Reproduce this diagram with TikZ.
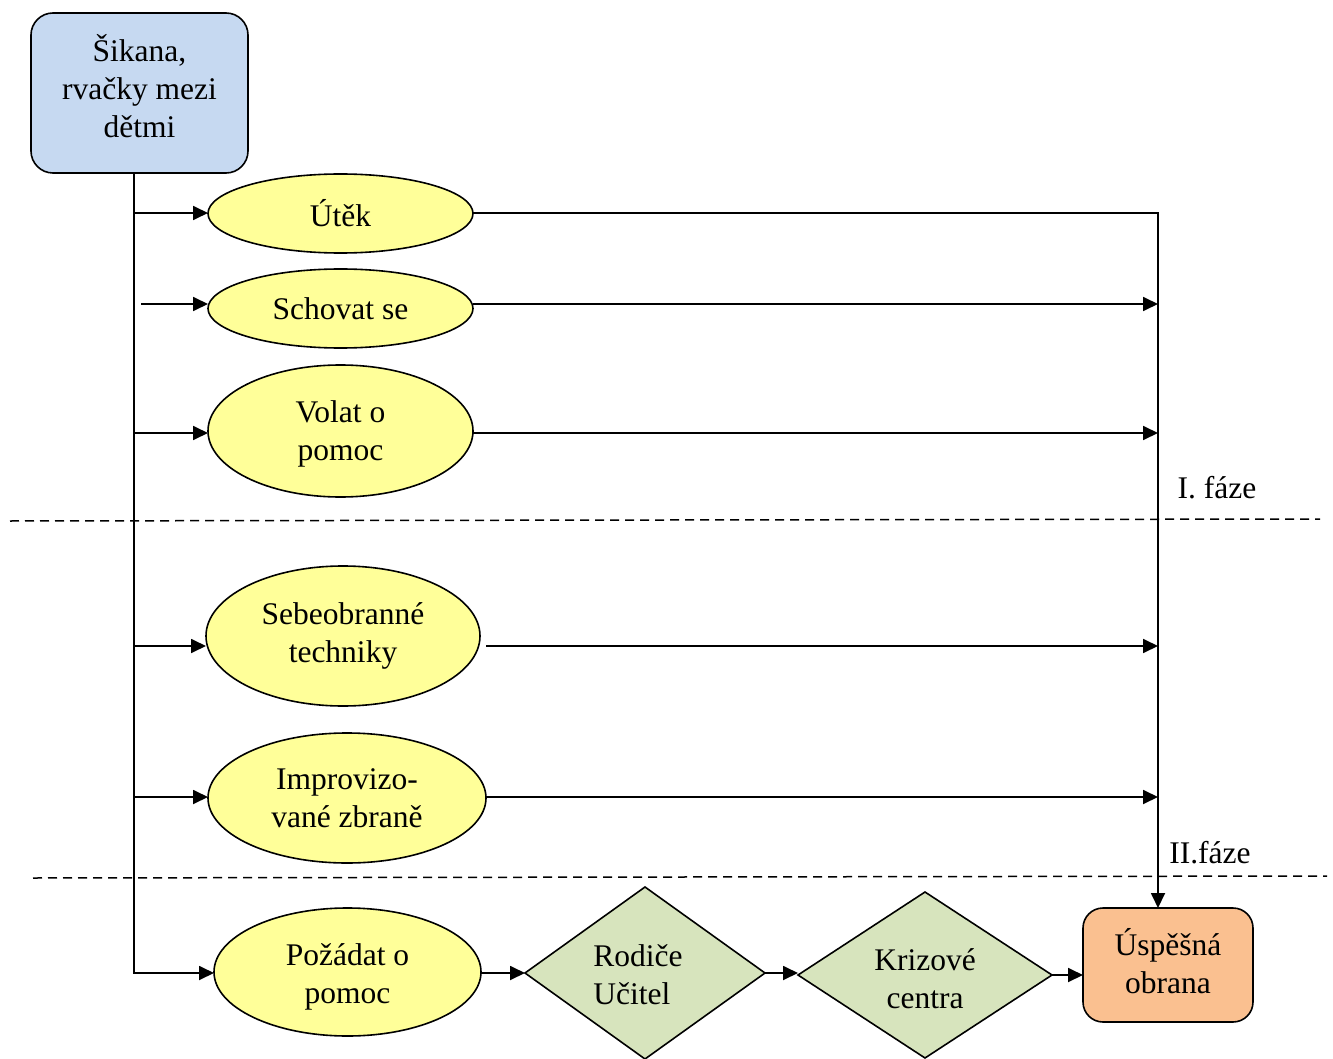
\documentclass[tikz,border=0pt]{standalone}
\usepackage{fontspec}
\setmainfont{Liberation Serif}
\usetikzlibrary{shapes.geometric,arrows.meta}
\definecolor{startfill}{HTML}{C6D9F1}
\definecolor{ovalfill}{HTML}{FFFF99}
\definecolor{decfill}{HTML}{D7E4BD}
\definecolor{endfill}{HTML}{FAC090}
\begin{document}
\begin{tikzpicture}[x=1pt,y=-1pt,
  every node/.style={font=\fontsize{31.5}{38}\selectfont, align=center, inner sep=0pt, outer sep=0pt},
  every label/.style={font=\fontsize{31.5}{38}\selectfont, align=center, inner sep=0pt},
  outline/.style={draw=black, line width=1.6pt},
  startbox/.style={outline, rectangle, rounded corners=22pt, fill=startfill},
  endbox/.style={outline, rectangle, rounded corners=20pt, fill=endfill},
  oval/.style={outline, ellipse, fill=ovalfill},
  decision/.style={outline, diamond, fill=decfill},
  wire/.style={draw=black, line width=1.8pt},
  arrow/.style={wire, -{Triangle[length=15pt,width=14pt]}},
  divider/.style={draw=black, line width=1.5pt, dash pattern=on 9pt off 6pt}]
\useasboundingbox (0,0) rectangle (1333,1059);

% nodes (captions that sit off-centre are set as centre labels with a shift)
\node[startbox, minimum width=217pt, minimum height=160pt,
  label={[yshift=7pt]center:{Šikana,\\rvačky mezi\\dětmi}}] (src) at (139.5,93) {};
\node[oval, minimum width=265pt, minimum height=79pt] (utek) at (340.5,213.5) {Útěk};
\node[oval, minimum width=265pt, minimum height=79pt] (schovat) at (340.5,308.5) {Schovat se};
\node[oval, minimum width=265pt, minimum height=132pt,
  label={[yshift=-3pt]center:{Volat o\\pomoc}}] (volat) at (340.5,431) {};
\node[oval, minimum width=274pt, minimum height=140pt] (sebe) at (343,636) {Sebeobranné\\techniky};
\node[oval, minimum width=278pt, minimum height=130pt] (impro) at (347,798) {Improvizo-\\vané zbraně};
\node[oval, minimum width=267pt, minimum height=128pt,
  label={[yshift=-5pt]center:{Požádat o\\pomoc}}] (pozadat) at (347.5,972) {};
\node[decision, minimum width=240pt, minimum height=172pt,
  label={[align=left, xshift=-7pt, yshift=-2pt]center:{Rodiče\\Učitel}}] (rodice) at (645,973) {};
\node[decision, minimum width=254pt, minimum height=166pt,
  label={[yshift=-4pt]center:{Krizové\\centra}}] (krize) at (925,975) {};
\node[endbox, minimum width=170pt, minimum height=114pt,
  label={[yshift=4pt]center:{Úspěšná\\obrana}}] (ok) at (1168,965) {};

% phase labels
\node (faze1) at (1217,488) {I. fáze};
\node (faze2) at (1210,853) {II.fáze};

% helper coordinates
\coordinate (trunkTop) at (134,173);
\coordinate (rail) at (1158,213);
\coordinate (yUtek) at (0,213);
\coordinate (schovStart) at (141,304);
\coordinate (yVolat) at (0,433);
\coordinate (ySebe) at (0,646);
\coordinate (sebeOut) at (486,646);
\coordinate (yImpro) at (0,797);
\coordinate (yHelp) at (0,973);
\coordinate (d1a) at (10,521);
\coordinate (d1b) at (1320,519);
\coordinate (d2a) at (33,878);
\coordinate (d2b) at (1327,876);

% phase dividers
\draw[divider] (d1a) -- (d1b);
\draw[divider] (d2a) -- (d2b);

% trunk and branches on the left
\draw[arrow] (trunkTop) -- (trunkTop |- yHelp) -- (pozadat.west |- yHelp);
\draw[arrow] (trunkTop |- yUtek) -- (utek.west |- yUtek);
\draw[arrow] (schovStart) -- (schovStart -| schovat.west);
\draw[arrow] (trunkTop |- yVolat) -- (volat.west |- yVolat);
\draw[arrow] (trunkTop |- ySebe) -- (sebe.west |- ySebe);
\draw[arrow] (trunkTop |- yImpro) -- (impro.west |- yImpro);

% rail on the right
\draw[arrow] (utek.east |- yUtek) -- (rail) -- (rail |- ok.north);
\draw[arrow] (schovat.east |- schovStart) -- (rail |- schovStart);
\draw[arrow] (volat.east |- yVolat) -- (rail |- yVolat);
\draw[arrow] (sebeOut) -- (rail |- sebeOut);
\draw[arrow] (impro.east |- yImpro) -- (rail |- yImpro);

% help chain at the bottom
\draw[arrow] (pozadat.east |- yHelp) -- (rodice.west |- yHelp);
\draw[arrow] (rodice.east) -- (rodice.east -| krize.west);
\draw[arrow] (krize.east) -- (krize.east -| ok.west);
\end{tikzpicture}
\end{document}
